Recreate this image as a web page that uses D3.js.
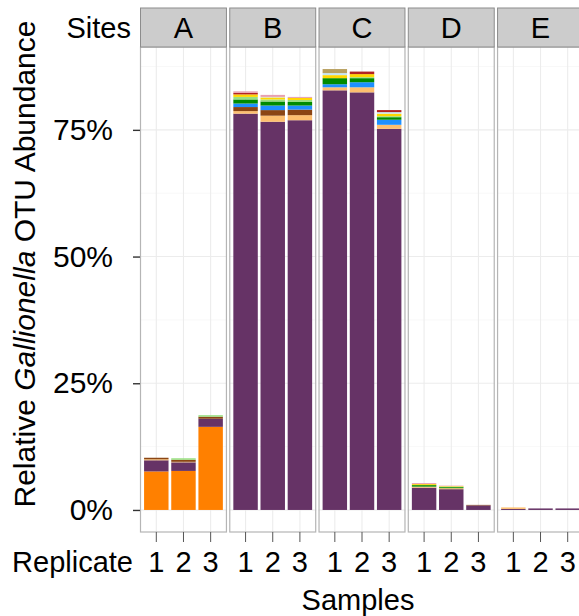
<!DOCTYPE html>
<html>
<head>
<meta charset="utf-8">
<script src="https://cdn.jsdelivr.net/npm/d3@7"></script>
<style>
  body { margin: 0; background: #fff; }
  text { font-family: "Liberation Sans", Arial, sans-serif; fill: #000; }
</style>
</head>
<body>
<script>
'use strict'

const sites = ["A", "B", "C", "D", "E"];
const replicates = ["1", "2", "3"];
const yTicks = [0, 25, 50, 75];

// one value per sample, order A1 A2 A3 B1 ... E3 (percent)
const otuNames = ["orange", "purple", "tan", "brown", "blue", "green", "lightgreen", "yellow", "lightblue", "khaki", "red", "pink"];
const otuColors = ["#ff8000", "#663366", "#fdbf6f", "#8b4513", "#1e90ff", "#008b00", "#98e080", "#ffd700", "#c6e6f5", "#b8a060", "#b22222", "#e8a0b0"];
const orange     = [7.6, 7.7, 16.4, 0, 0, 0, 0, 0, 0, 0, 0, 0, 0, 0, 0];
const purple     = [2.2, 1.7, 1.6, 78.2, 76.6, 76.9, 82.8, 82.4, 75.2, 4.4, 4.1, 0.9, 0.2, 0.3, 0.3];
const tan        = [0.2, 0.1, 0, 0.5, 1.2, 1.0, 0.6, 1.0, 0.8, 0.2, 0.2, 0, 0.3, 0, 0];
const brown      = [0.3, 0.4, 0.4, 0.8, 1.1, 1.1, 0, 0, 0, 0, 0, 0.1, 0, 0, 0];
const blue       = [0, 0, 0, 0.7, 0.9, 0.8, 0.6, 1.0, 1.0, 0, 0, 0, 0, 0, 0];
const green      = [0, 0, 0, 0.8, 0.8, 0.7, 1.2, 0.8, 0.5, 0.3, 0.2, 0, 0, 0, 0];
const lightgreen = [0, 0.3, 0.3, 0.5, 0.4, 0.4, 0, 0.2, 0.2, 0, 0.1, 0, 0, 0, 0];
const yellow     = [0, 0, 0, 0.5, 0.4, 0.4, 0.6, 0.6, 0.5, 0.2, 0.1, 0, 0, 0, 0];
const lightblue  = [0, 0, 0, 0, 0.1, 0, 0.4, 0, 0.3, 0, 0, 0, 0, 0, 0];
const khaki      = [0, 0, 0, 0, 0, 0, 0.8, 0, 0, 0, 0, 0, 0, 0, 0];
const red        = [0, 0, 0, 0.3, 0, 0, 0, 0.5, 0.4, 0, 0, 0, 0, 0, 0];
const pink       = [0, 0, 0, 0.3, 0.4, 0.2, 0, 0, 0, 0.2, 0.1, 0, 0, 0, 0];
const otuValues = [orange, purple, tan, brown, blue, green, lightgreen, yellow, lightblue, khaki, red, pink];

const w = 579;
const h = 616;
const fontSize = 29;
const panelTop = 47;
const panelBottom = 532;
const stripTop = 8;

// build rows for d3.stack
const rows = [];
sites.forEach((s, si) => {
	replicates.forEach((r, ri) => {
		const row = { site: s, rep: r };
		otuNames.forEach((n, k) => { row[n] = otuValues[k][si * 3 + ri]; });
		rows.push(row);
	});
});

const series = d3.stack().keys(otuNames)(rows);
const maxTotal = d3.max(series[series.length - 1], (d) => d[1]);

const siteScale = d3.scaleBand()
	.domain(sites)
	.range([140, 584])
	.paddingInner(0.026);

const repScale = d3.scaleBand()
	.domain(replicates)
	.range([0, siteScale.bandwidth()])
	.paddingInner(0.1)
	.paddingOuter(0.15);

const yScale = d3.scaleLinear()
	.domain([-0.05 * maxTotal, 1.05 * maxTotal])
	.range([panelBottom, panelTop]);

const color = d3.scaleOrdinal().domain(otuNames).range(otuColors);

const svg = d3.select("body")
	.append("svg")
	.attr("width", w)
	.attr("height", h);

const panels = svg.selectAll("g.panel")
	.data(sites)
	.enter()
	.append("g")
	.attr("class", "panel")
	.attr("transform", (d) => "translate(" + siteScale(d) + ",0)");

const pw = siteScale.bandwidth();

panels.append("rect")
	.attr("x", 0)
	.attr("y", panelTop)
	.attr("width", pw)
	.attr("height", panelBottom - panelTop)
	.attr("fill", "#fff");

// grid lines
const minor = [12.5, 37.5, 62.5, 87.5].filter((v) => v < yScale.domain()[1]);
panels.each(function () {
	const g = d3.select(this);
	g.selectAll("line.minor")
		.data(minor)
		.enter()
		.append("line")
		.attr("x1", 0).attr("x2", pw)
		.attr("y1", (d) => yScale(d)).attr("y2", (d) => yScale(d))
		.attr("stroke", "#f4f4f4")
		.attr("stroke-width", 0.6);
	g.selectAll("line.major")
		.data(yTicks)
		.enter()
		.append("line")
		.attr("x1", 0).attr("x2", pw)
		.attr("y1", (d) => yScale(d)).attr("y2", (d) => yScale(d))
		.attr("stroke", "#ececec")
		.attr("stroke-width", 1.1);
	g.selectAll("line.vgrid")
		.data(replicates)
		.enter()
		.append("line")
		.attr("x1", (d) => repScale(d) + repScale.bandwidth() / 2)
		.attr("x2", (d) => repScale(d) + repScale.bandwidth() / 2)
		.attr("y1", panelTop).attr("y2", panelBottom)
		.attr("stroke", "#ececec")
		.attr("stroke-width", 1.1);
});

// stacked bars
series.forEach((ser) => {
	panels.each(function (site) {
		d3.select(this).selectAll(null)
			.data(ser.filter((d) => d.data.site === site && d[1] > d[0]))
			.enter()
			.append("rect")
			.attr("x", (d) => repScale(d.data.rep))
			.attr("width", repScale.bandwidth())
			.attr("y", (d) => yScale(d[1]))
			.attr("height", (d) => yScale(d[0]) - yScale(d[1]))
			.attr("fill", color(ser.key));
	});
});

// panel border
panels.append("rect")
	.attr("x", 0.5)
	.attr("y", panelTop)
	.attr("width", pw - 1)
	.attr("height", panelBottom - panelTop)
	.attr("fill", "none")
	.attr("stroke", "#b5b5b5")
	.attr("stroke-width", 1.2);

// strips
panels.append("rect")
	.attr("x", 0.5)
	.attr("y", stripTop)
	.attr("width", pw - 1)
	.attr("height", panelTop - stripTop)
	.attr("fill", "#cccccc")
	.attr("stroke", "#8c8c8c")
	.attr("stroke-width", 1);

panels.append("text")
	.attr("x", pw / 2)
	.attr("y", (stripTop + panelTop) / 2)
	.attr("dy", "0.36em")
	.attr("text-anchor", "middle")
	.attr("font-size", fontSize)
	.text((d) => d);

// x axes per panel
panels.each(function () {
	const xAxis = d3.axisBottom(repScale).tickSize(10).tickPadding(9);
	const ax = d3.select(this).append("g")
		.attr("transform", "translate(0," + panelBottom + ")")
		.call(xAxis);
	ax.select(".domain").remove();
	ax.selectAll(".tick line").attr("stroke", "#555");
	ax.selectAll(".tick text")
		.attr("font-size", fontSize)
		.attr("font-family", "Liberation Sans, Arial, sans-serif")
		.attr("fill", "#000");
});

// y axis
const yAxis = d3.axisLeft(yScale)
	.tickValues(yTicks)
	.tickFormat((d) => d + "%")
	.tickSize(7)
	.tickPadding(20);

const yg = svg.append("g")
	.attr("transform", "translate(" + siteScale(sites[0]) + ",0)")
	.call(yAxis);
yg.select(".domain").remove();
yg.selectAll(".tick line").attr("stroke", "#333").attr("stroke-width", 1.4);
yg.selectAll(".tick text")
	.attr("font-size", 30)
	.attr("font-family", "Liberation Sans, Arial, sans-serif")
	.attr("fill", "#000");

svg.append("text")
	.attr("x", 131)
	.attr("y", (stripTop + panelTop) / 2)
	.attr("dy", "0.36em")
	.attr("text-anchor", "end")
	.attr("font-size", fontSize)
	.text("Sites");

svg.append("text")
	.attr("x", 133)
	.attr("y", panelBottom + 19)
	.attr("dy", "0.71em")
	.attr("text-anchor", "end")
	.attr("font-size", fontSize)
	.text("Replicate");

svg.append("text")
	.attr("x", (140 + 584) / 2 - 4)
	.attr("y", 610)
	.attr("text-anchor", "middle")
	.attr("font-size", fontSize)
	.text("Samples");

const yt = svg.append("text")
	.attr("transform", "translate(35,264) rotate(-90)")
	.attr("text-anchor", "middle")
	.attr("font-size", 30);
yt.append("tspan").text("Relative ");
yt.append("tspan").attr("font-style", "italic").text("Gallionella");
yt.append("tspan").text(" OTU Abundance");

</script>
</body>
</html>
